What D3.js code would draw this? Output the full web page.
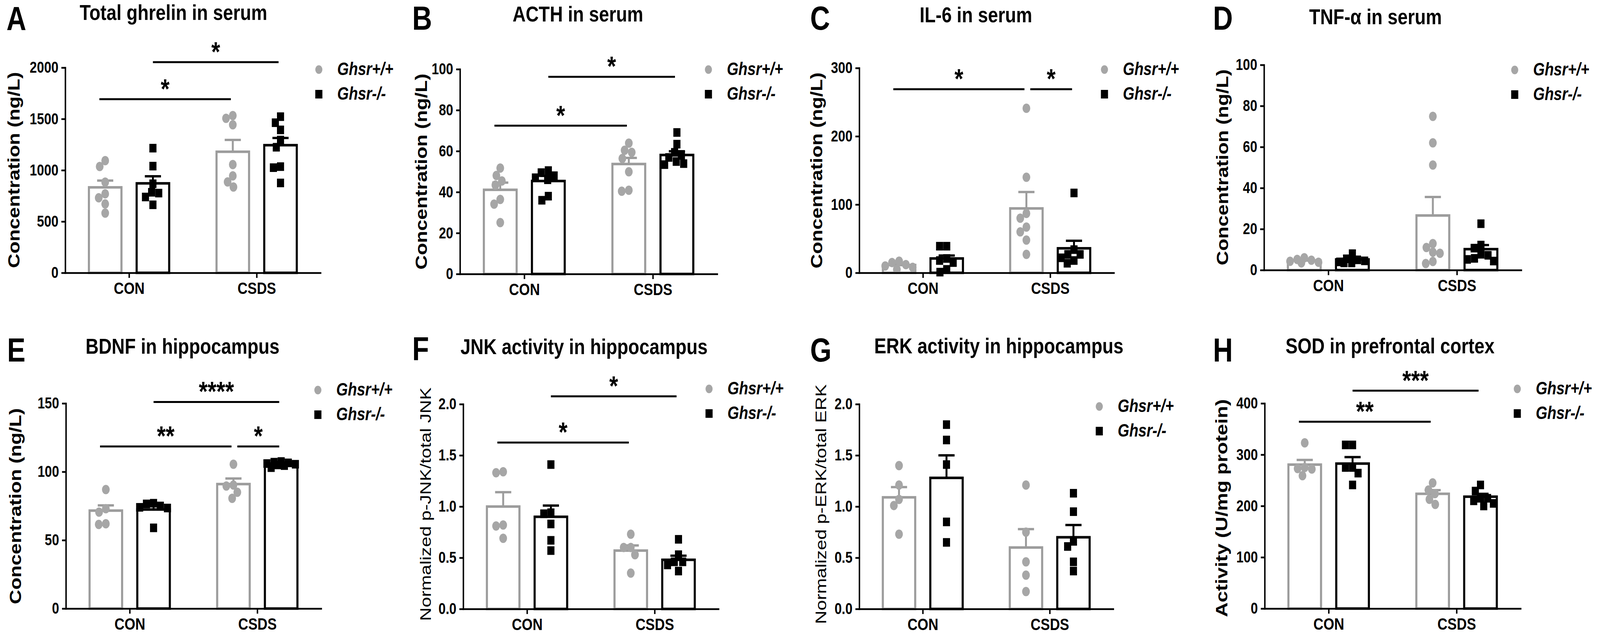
<!DOCTYPE html>
<html>
<head>
<meta charset="utf-8">
<script src="https://cdn.jsdelivr.net/npm/d3@7"></script>
<style>
html, body { margin: 0; padding: 0; background: #fff; overflow: hidden; }
svg { display: block; width: 100vw; height: 100vh; }
</style>
</head>
<body>
<svg id="fig"></svg>
<script>
// ---- data ----
var groups = ["CON", "CSDS"];
var genotypes = ["Ghsr+/+", "Ghsr-/-"];
var panelLetters = ["A", "B", "C", "D", "E", "F", "G", "H"];
var titles = ["Total ghrelin in serum", "ACTH in serum", "IL-6 in serum", "TNF-\u03b1 in serum",
              "BDNF in hippocampus", "JNK activity in hippocampus", "ERK activity in hippocampus", "SOD in prefrontal cortex"];
var yLabels = ["Concentration (ng/L)", "Concentration (ng/L)", "Concentration (ng/L)", "Concentration (ng/L)",
               "Concentration (ng/L)", "Normalized p-JNK/total JNK", "Normalized p-ERK/total ERK", "Activity (U/mg protein)"];
var yMax = [2000, 100, 300, 100, 150, 2.0, 2.0, 400];
var yStep = [500, 20, 100, 20, 50, 0.5, 0.5, 100];

// bar order: Ghsr+/+ CON, Ghsr-/- CON, Ghsr+/+ CSDS, Ghsr-/- CSDS
var ghrelinMean = [833, 872, 1180, 1244];
var ghrelinSem = [66, 69, 115, 70];
var ghrelinPoints = [
  [1093, 1036, 884, 770, 731, 671, 582],
  [1215, 1040, 868, 785, 777, 739, 663],
  [1532, 1506, 1443, 1055, 945, 886, 836],
  [1522, 1463, 1393, 1294, 1224, 1035, 1025, 876]
];
var ghrelinSig = [[1, 3, 2053, "*"], [0, 2, 1692, "*"]];

var acthMean = [41.1, 45.4, 53.7, 58.1];
var acthSem = [3.5, 2.5, 3.0, 1.8];
var acthPoints = [
  [51.7, 48.1, 45.4, 43.4, 36.4, 34.1, 25.1],
  [50.5, 49.5, 48, 47, 46, 38, 36],
  [63.9, 60.4, 59.4, 56.4, 49.9, 40.9, 40.4],
  [69.1, 63.4, 59.4, 57.9, 56.9, 54.9, 53.9, 53.4]
];
var acthSig = [[1, 3, 96.3, "*"], [0, 2, 72.4, "*"]];

var il6Mean = [11.4, 21, 94.3, 35.9];
var il6Sem = [2, 4.4, 24, 11];
var il6Points = [
  [17, 15, 12, 10, 8, 5],
  [39, 39, 21, 18, 15, 5, 1],
  [241, 140, 87, 80, 67, 60, 48, 27],
  [117, 34, 27, 27, 22, 18, 14]
];
var il6Sig = [[0, 2, 269, "*"], [2, 3, 269, "*"]];

var tnfMean = [4.7, 5.2, 26.6, 10.2];
var tnfSem = [0.4, 0.6, 9.0, 2.0];
var tnfPoints = [
  [6.0, 5.2, 4.8, 4.3, 3.8, 3.5],
  [8, 5.5, 5, 4.5, 4, 3.5, 3.5],
  [74.9, 62, 51.2, 12.9, 11, 8.7, 8.2, 4.2, 3.2],
  [22.6, 12.2, 10.7, 7.7, 7.2, 5.7, 5.2, 4.4]
];
var tnfSig = [];

var bdnfMean = [71.6, 72.4, 91, 106];
var bdnfSem = [3.8, 2.5, 4.1, 0.6];
var bdnfPoints = [
  [87, 73, 70.5, 62, 61.5],
  [77, 76.5, 75, 74, 73.5, 59],
  [105.5, 90.3, 89.6, 85, 80.6],
  [107.5, 107, 106.5, 106, 105.5, 105, 104.5, 103]
];
var bdnfSig = [[1, 3, 151, "****"], [0, 2, 118.5, "**"], [2, 3, 118.5, "*"]];

var jnkMean = [1.00, 0.90, 0.57, 0.48];
var jnkSem = [0.14, 0.11, 0.05, 0.04];
var jnkPoints = [
  [1.34, 1.33, 0.82, 0.81, 0.69],
  [1.41, 0.94, 0.93, 0.83, 0.67, 0.57],
  [0.73, 0.60, 0.60, 0.53, 0.35],
  [0.68, 0.53, 0.46, 0.46, 0.43, 0.37]
];
var jnkSig = [[1, 3, 2.076, "*"], [0, 2, 1.625, "*"]];

var erkMean = [1.09, 1.28, 0.60, 0.70];
var erkSem = [0.10, 0.22, 0.18, 0.12];
var erkPoints = [
  [1.40, 1.21, 1.07, 1.01, 0.73],
  [1.80, 1.65, 1.41, 0.85, 0.65],
  [1.21, 0.75, 0.46, 0.33, 0.17],
  [1.13, 0.95, 0.66, 0.61, 0.46, 0.37]
];
var erkSig = [];

var sodMean = [280.6, 282.6, 223.7, 218.1];
var sodSem = [9.2, 12.7, 7.1, 5.5];
var sodPoints = [
  [323, 275, 273, 272, 259],
  [319, 319, 275, 275, 264, 241],
  [245, 231, 224, 213, 203],
  [241, 229, 215, 215, 210, 205, 200]
];
var sodSig = [[1, 3, 424.7, "***"], [0, 2, 364.2, "**"]];

// ---- layout ----
var W = 4953, H = 1640;
var FONT = "'Liberation Sans', Arial, Helvetica, sans-serif";
var grey = "#9c9c9c", greyDot = "#a6a6a6";

var panels = [
  {mean: ghrelinMean, sem: ghrelinSem, pts: ghrelinPoints, sig: ghrelinSig},
  {mean: acthMean, sem: acthSem, pts: acthPoints, sig: acthSig},
  {mean: il6Mean, sem: il6Sem, pts: il6Points, sig: il6Sig},
  {mean: tnfMean, sem: tnfSem, pts: tnfPoints, sig: tnfSig},
  {mean: bdnfMean, sem: bdnfSem, pts: bdnfPoints, sig: bdnfSig},
  {mean: jnkMean, sem: jnkSem, pts: jnkPoints, sig: jnkSig},
  {mean: erkMean, sem: erkSem, pts: erkPoints, sig: erkSig},
  {mean: sodMean, sem: sodSem, pts: sodPoints, sig: sodSig}
];

// where each panel sits on the page
var boxes = [
  {x0: 202, x1: 992, yT: 173, yB: 698, lab: [20, 77], title: [537, 51], ylab: [60, 435], leg: [987, 178]},
  {x0: 1424, x1: 2220, yT: 177, yB: 701, lab: [1276, 76], title: [1789, 55], ylab: [1322, 439], leg: [2193, 178]},
  {x0: 2660, x1: 3448, yT: 174, yB: 698, lab: [2508, 76], title: [3021, 57], ylab: [2545, 436], leg: [3419, 178]},
  {x0: 3913, x1: 4709, yT: 166, yB: 691, lab: [3755, 76], title: [4258, 62], ylab: [3802, 428], leg: [4689, 179]},
  {x0: 204, x1: 994, yT: 1032, yB: 1557, lab: [22, 925], title: [565, 905], ylab: [65, 1295], leg: [984, 998]},
  {x0: 1434, x1: 2224, yT: 1034, yB: 1558, lab: [1276, 922], title: [1808, 906], ylab: [1334, 1290], leg: [2195, 995]},
  {x0: 2660, x1: 3446, yT: 1034, yB: 1558, lab: [2508, 925], title: [3092, 904], ylab: [2558, 1290], leg: [3403, 1040]},
  {x0: 3915, x1: 4707, yT: 1032, yB: 1557, lab: [3755, 925], title: [4303, 904], ylab: [3799, 1300], leg: [4697, 995]}
];

// laid out in 4953x1640 units; stretched to fill the window exactly
var svg = d3.select("#fig")
  .attr("viewBox", "0 0 " + W + " " + H)
  .attr("preserveAspectRatio", "none")
  .attr("font-family", FONT);
svg.append("rect").attr("width", W).attr("height", H).attr("fill", "#fff");

// beeswarm kept inside the bar: take the spot nearest the centre that
// clears the others; if none fits, the spot with most room
function swarm(vals, y, D, maxW) {
  var placed = [];
  return vals.map(function(v) {
    var py = y(v);
    var best = null, bestRoom = -1, bestFit = null;
    for (var c = -maxW; c <= maxW + 1e-9; c += 1) {
      var room = Infinity;
      placed.forEach(function(p) {
        room = Math.min(room, Math.hypot(p.x - c, p.y - py));
      });
      if (room >= D && (bestFit === null || Math.abs(c) < Math.abs(bestFit) - 1e-9)) bestFit = c;
      if (room > bestRoom + 1e-9) { bestRoom = room; best = c; }
    }
    var dx = bestFit !== null ? bestFit : best;
    placed.push({x: dx, y: py});
    return {v: v, dx: dx, y: py};
  });
}

panels.forEach(function(p, i) {
  var L = boxes[i];
  var g = svg.append("g");

  var y = d3.scaleLinear().domain([0, yMax[i]]).range([L.yB, L.yT]);
  var x = d3.scalePoint().domain(groups).range([L.x0, L.x1]).padding(0.5);
  var step = x.step();
  var off = 0.187 * step, bw = 0.255 * step;
  var barX = function(k) { return x(groups[Math.floor(k / 2)]) + (k % 2 ? off : -off); };
  var col = function(k) { return k % 2 ? "#000" : grey; };

  // panel letter + title
  g.append("text").attr("x", L.lab[0]).attr("y", L.lab[1])
    .attr("font-size", 85).attr("font-weight", "bold").text(panelLetters[i]);
  g.append("text").attr("x", L.title[0]).attr("y", L.title[1])
    .attr("text-anchor", "middle").attr("font-size", 56).attr("font-weight", "bold").text(titles[i]);

  // y label
  var thin = (i === 5 || i === 6);
  g.append("text")
    .attr("transform", "translate(" + L.ylab[0] + "," + L.ylab[1] + ") rotate(-90)")
    .attr("text-anchor", "middle")
    .attr("font-size", thin ? 48 : (i === 7 ? 52 : 51))
    .attr("font-weight", thin ? "normal" : "bold")
    .text(yLabels[i]);

  // bars
  p.mean.forEach(function(m, k) {
    g.append("rect")
      .attr("x", barX(k) - bw / 2).attr("y", y(m))
      .attr("width", bw).attr("height", y(0) - y(m))
      .attr("fill", "#fff").attr("stroke", col(k)).attr("stroke-width", 6.5);
  });

  // error bars (SEM, upward only)
  p.mean.forEach(function(m, k) {
    var cx = barX(k);
    g.append("line").attr("x1", cx).attr("x2", cx)
      .attr("y1", y(m)).attr("y2", y(m + p.sem[k]))
      .attr("stroke", col(k)).attr("stroke-width", 6);
    g.append("line").attr("x1", cx - 25).attr("x2", cx + 25)
      .attr("y1", y(m + p.sem[k])).attr("y2", y(m + p.sem[k]))
      .attr("stroke", col(k)).attr("stroke-width", 6);
  });

  // individual animals
  p.pts.forEach(function(vals, k) {
    var cx = barX(k);
    var sw = swarm(vals, y, 22, 44);
    if (k % 2 === 0) {
      g.selectAll(null).data(sw).enter().append("circle")
        .attr("cx", function(d) { return cx + d.dx; })
        .attr("cy", function(d) { return d.y; })
        .attr("r", 12).attr("fill", greyDot);
    } else {
      g.selectAll(null).data(sw).enter().append("rect")
        .attr("x", function(d) { return cx + d.dx - 11; })
        .attr("y", function(d) { return d.y - 11; })
        .attr("width", 22).attr("height", 22).attr("fill", "#000");
    }
  });

  // axes
  var fmt = yStep[i] < 1 ? d3.format(".1f") : d3.format("d");
  var yAxis = d3.axisLeft(y)
    .tickValues(d3.range(0, yMax[i] + yStep[i] / 2, yStep[i]))
    .tickSize(12).tickSizeOuter(0).tickPadding(9).tickFormat(fmt);
  var ya = g.append("g").attr("transform", "translate(" + L.x0 + ",0)").call(yAxis);
  var xAxis = d3.axisBottom(x).tickSize(13).tickSizeOuter(0).tickPadding(10);
  var xa = g.append("g").attr("transform", "translate(0," + L.yB + ")").call(xAxis);
  [ya, xa].forEach(function(a) {
    a.attr("font-family", FONT);
    a.select(".domain").attr("stroke", "#000").attr("stroke-width", 4.5).attr("stroke-linecap", "square");
    a.selectAll(".tick line").attr("stroke", "#000").attr("stroke-width", 4.5);
    a.selectAll(".tick text").attr("fill", "#000").attr("font-weight", "bold");
  });
  ya.attr("font-size", 40);
  xa.attr("font-size", 43);

  // significance brackets: from the first bar (wild-type CON reaches a bit left of
  // its centre; a bracket joining another at the same height leaves a gap)
  p.sig.forEach(function(s) {
    var joined = p.sig.some(function(o) { return o !== s && o[1] === s[0] && o[2] === s[2]; });
    var start = s[0] === 0 ? -18 : (joined ? 12 : 0);
    var xa1 = barX(s[0]) + start, xb = barX(s[1]) - 6, yy = y(s[2]);
    g.append("line").attr("x1", xa1).attr("x2", xb).attr("y1", yy).attr("y2", yy)
      .attr("stroke", "#000").attr("stroke-width", 5);
    g.append("text").attr("x", (xa1 + xb) / 2).attr("y", yy - 2)
      .attr("text-anchor", "middle").attr("font-size", 70).attr("font-weight", "bold")
      .text(s[3]);
  });

  // legend
  var lx = L.leg[0], ly = L.leg[1];
  g.append("circle").attr("cx", lx).attr("cy", ly).attr("r", 11).attr("fill", greyDot);
  g.append("rect").attr("x", lx - 11).attr("y", ly + 63 - 11).attr("width", 22).attr("height", 22).attr("fill", "#000");
  genotypes.forEach(function(t, j) {
    g.append("text").attr("x", lx + 57).attr("y", ly + 14 + j * 63)
      .attr("font-size", 46).attr("font-weight", "bold").attr("font-style", "italic").text(t);
  });
});
</script>
</body>
</html>
